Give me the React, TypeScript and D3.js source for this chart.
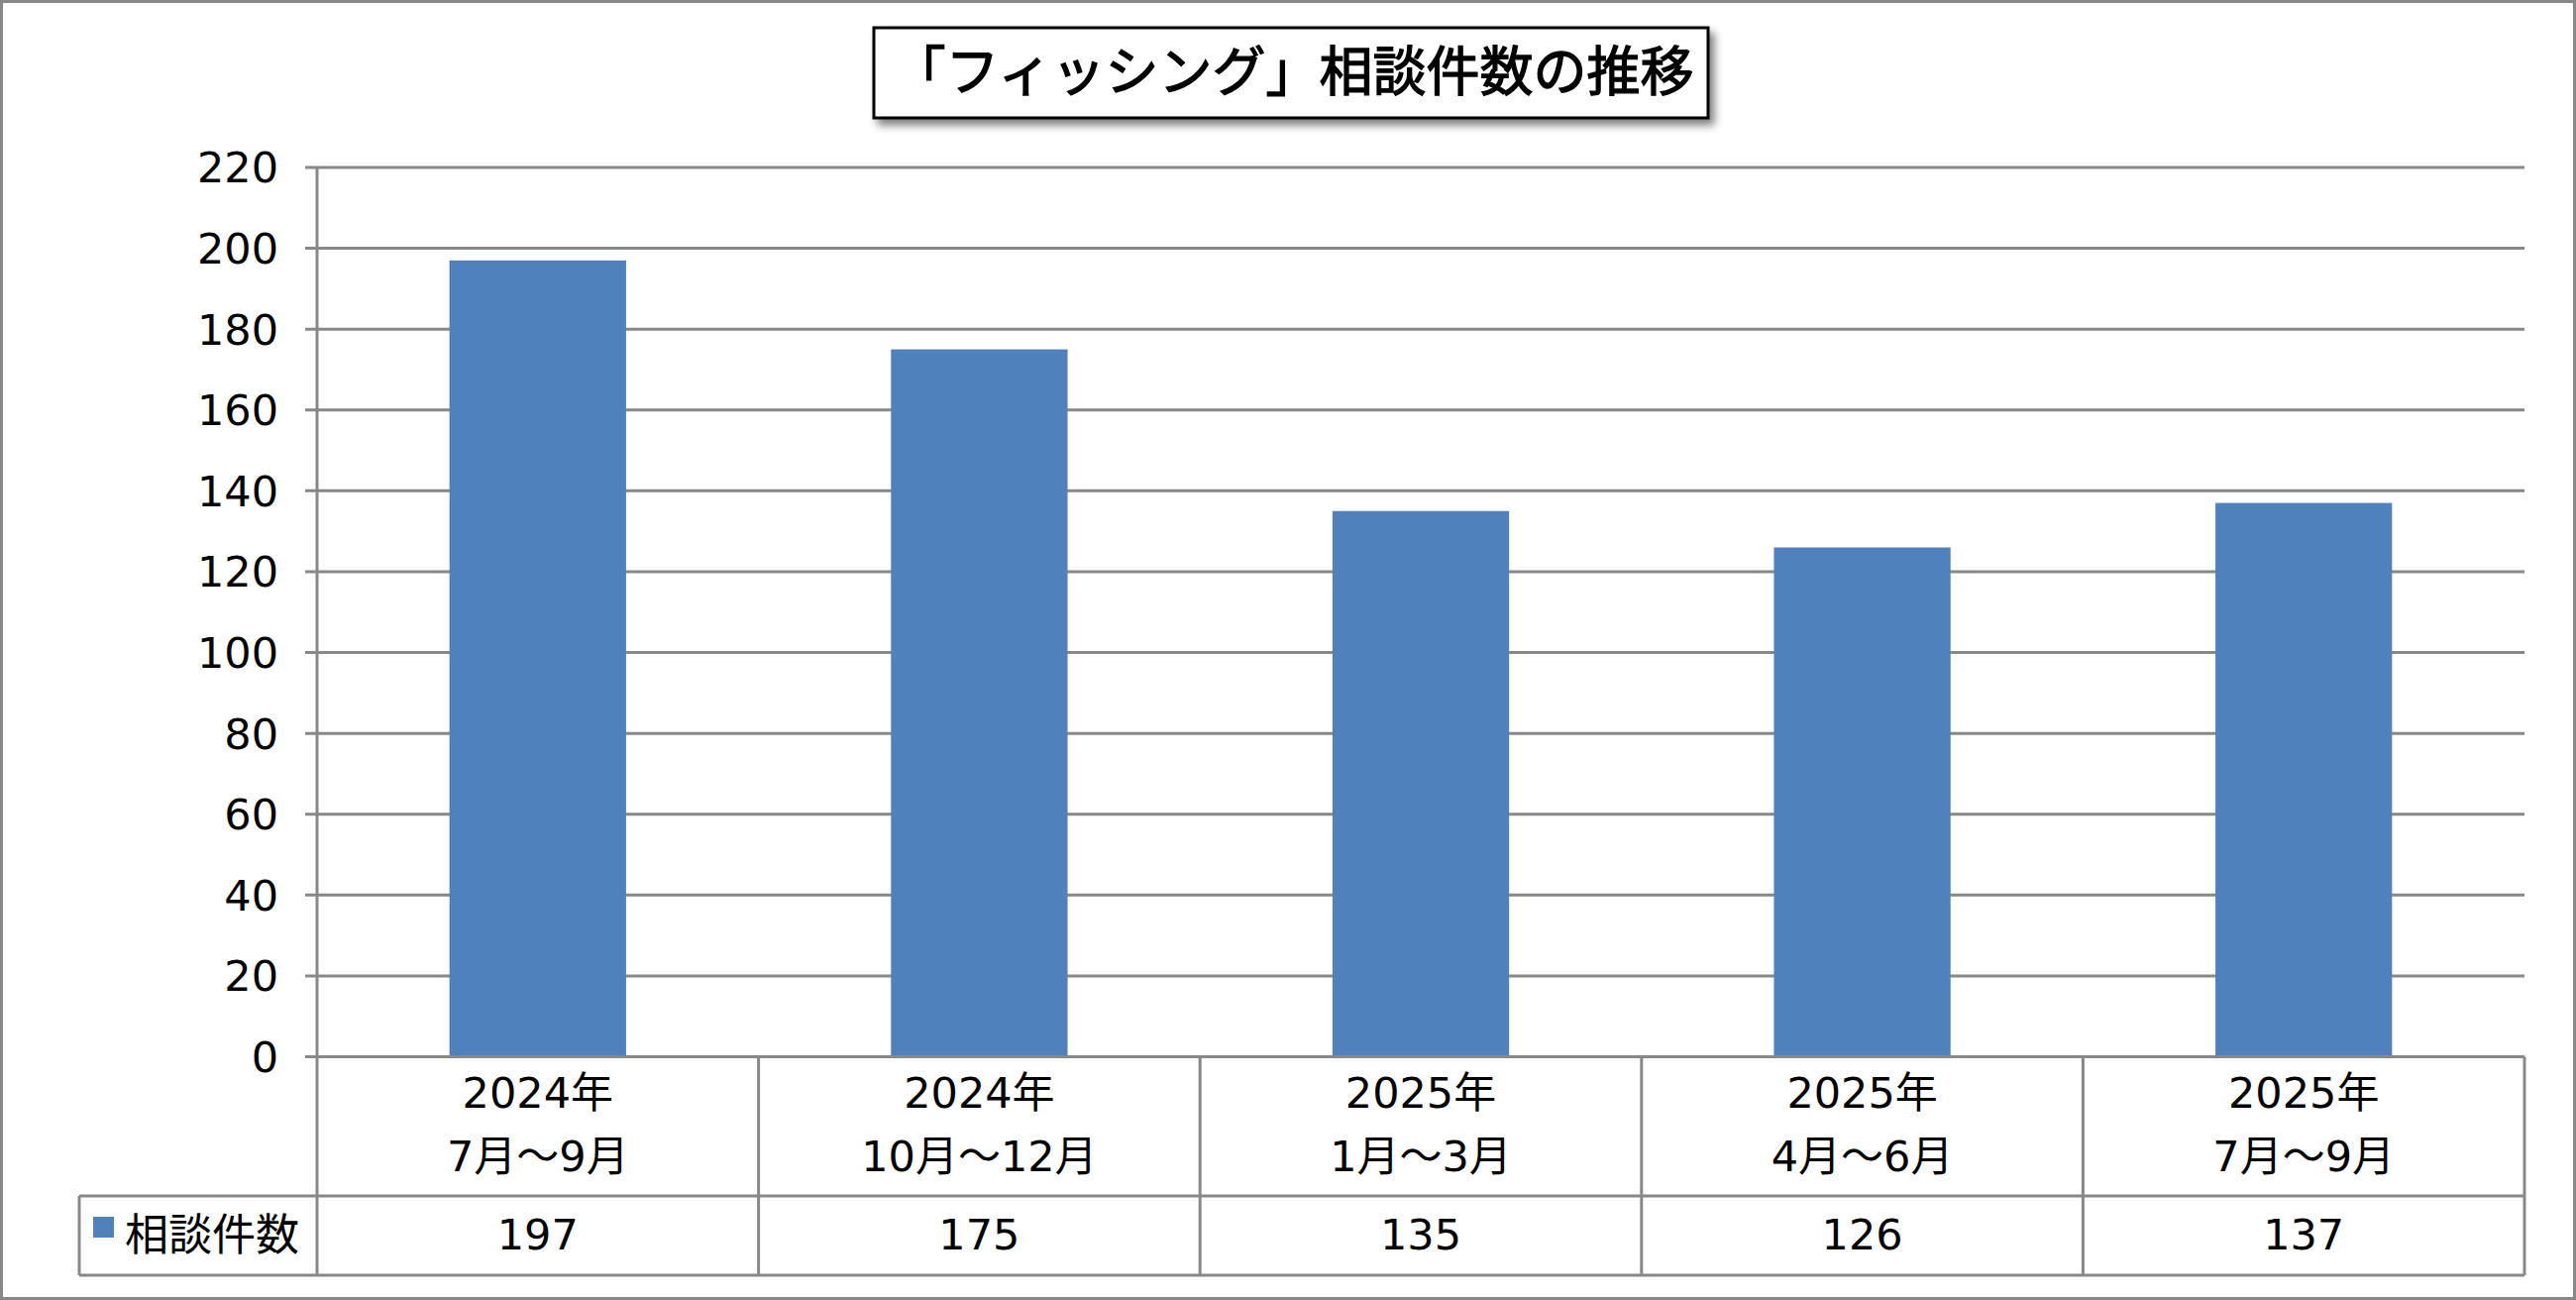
import React from "react";
import * as d3 from "d3";

const categoriesYear = ["2024年", "2024年", "2025年", "2025年", "2025年"];
const categoriesMonth = ["7月～9月", "10月～12月", "1月～3月", "4月～6月", "7月～9月"];
const seriesName = "相談件数";
const values = [197, 175, 135, 126, 137];
const yTicks = [0, 20, 40, 60, 80, 100, 120, 140, 160, 180, 200, 220];
const title = "「フィッシング」相談件数の推移";

const W = 2600;
const H = 1312;
const FONT = "'Noto Sans CJK JP', 'Noto Sans', sans-serif";
const NUMFONT = "'DejaVu Sans', 'Noto Sans CJK JP', sans-serif";
const GRID = "#888888";
const BAR = "#4F81BD";

export default function App() {
  const left = 320;
  const right = 2548;
  const top = 169;
  const bottom = 1066.5;
  const rowSep = 1207;
  const tableBottom = 1287;
  const tableLeft = 80;

  const x = d3.scaleBand<number>().domain(d3.range(values.length)).range([left, right]).paddingInner(0).paddingOuter(0);
  const y = d3.scaleLinear().domain([0, 220]).range([bottom, top]);
  const bw = x.bandwidth();
  const barW = bw * 0.4;

  return (
    <>
      <style>{`body{margin:0;overflow:hidden}`}</style>
      <svg width={W} height={H} style={{ display: "block", background: "#fff" }} fontFamily={FONT}>
        <rect x={1.5} y={1.5} width={W - 3} height={H - 3} fill="#fff" stroke={GRID} strokeWidth={3} />

        {/* gridlines */}
        {yTicks.map((t) => (
          <line key={"g" + t} x1={left - 12} x2={right} y1={y(t)} y2={y(t)} stroke={GRID} strokeWidth={3} />
        ))}
        {/* y labels */}
        {yTicks.map((t) => (
          <text key={"t" + t} x={281} y={y(t)} dy="0.36em" textAnchor="end" fontSize={43} fill="#000" fontFamily={NUMFONT}>
            {t}
          </text>
        ))}

        {/* bars */}
        {values.map((v, i) => (
          <rect key={"b" + i} x={(x(i) as number) + (bw - barW) / 2} y={y(v)} width={barW} height={y(0) - y(v)} fill={BAR} />
        ))}

        {/* axis + table lines */}
        <line x1={left} x2={left} y1={top} y2={tableBottom} stroke={GRID} strokeWidth={3} />
        {values.map((_, i) => (
          <line key={"v" + i} x1={(x(i) as number) + bw} x2={(x(i) as number) + bw} y1={bottom} y2={tableBottom} stroke={GRID} strokeWidth={3} />
        ))}
        <line x1={left - 12} x2={right} y1={bottom} y2={bottom} stroke={GRID} strokeWidth={3} />
        <line x1={tableLeft} x2={right} y1={rowSep} y2={rowSep} stroke={GRID} strokeWidth={3} />
        <line x1={tableLeft} x2={right} y1={tableBottom} y2={tableBottom} stroke={GRID} strokeWidth={3} />
        <line x1={tableLeft} x2={tableLeft} y1={rowSep} y2={tableBottom} stroke={GRID} strokeWidth={3} />

        {/* category labels */}
        {values.map((_, i) => {
          const cx = (x(i) as number) + bw / 2;
          return (
            <g key={"c" + i} fontFamily={NUMFONT}>
              <text x={cx} y={1103} dy="0.36em" textAnchor="middle" fontSize={43} fill="#000">
                {categoriesYear[i]}
              </text>
              <text x={cx} y={1167} dy="0.36em" textAnchor="middle" fontSize={43} fill="#000">
                {categoriesMonth[i]}
              </text>
              <text x={cx} y={1246} dy="0.36em" textAnchor="middle" fontSize={43} fill="#000">
                {values[i]}
              </text>
            </g>
          );
        })}

        {/* legend cell */}
        <rect x={94} y={1228} width={21} height={21} fill={BAR} />
        <text x={126} y={1246} dy="0.36em" fontSize={44} fill="#000">
          {seriesName}
        </text>

        {/* title */}
        <defs>
          <filter id="sh" x="-10%" y="-30%" width="120%" height="160%">
            <feGaussianBlur in="SourceAlpha" stdDeviation="4" />
            <feOffset dx="5" dy="6" result="b" />
            <feComponentTransfer>
              <feFuncA type="linear" slope="0.5" />
            </feComponentTransfer>
            <feMerge>
              <feMergeNode />
              <feMergeNode in="SourceGraphic" />
            </feMerge>
          </filter>
        </defs>
        <rect x={882} y={28} width={842} height={91} fill="#fff" stroke="#000" strokeWidth={3} filter="url(#sh)" />
        <text x={1305} y={73} dy="0.36em" textAnchor="middle" fontSize={54} fill="#000" stroke="#000" strokeWidth={1.3}>
          {title}
        </text>
      </svg>
    </>
  );
}
